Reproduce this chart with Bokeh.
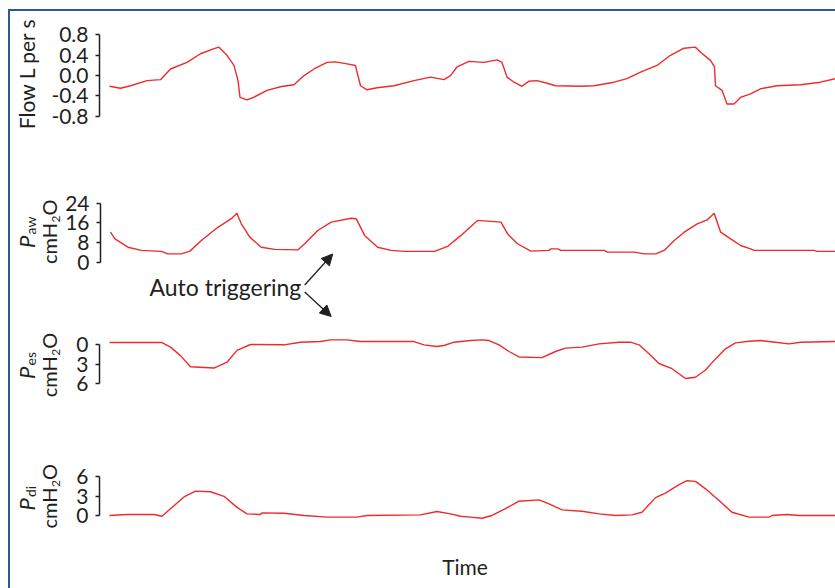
import math

from bokeh.embed import file_html
from bokeh.layouts import column, row
from bokeh.models import (Arrow, FixedTicker, Label, NormalHead,
                          PrintfTickFormatter, Range1d)
from bokeh.plotting import figure
from bokeh.resources import INLINE

# ---------------------------------------------------------------- data
# time axis in seconds, one trace per panel
time_flow = [0.0, 0.22, 0.42, 0.75, 1.02, 1.22, 1.55, 1.82, 2.09, 2.19, 2.35, 2.49,
             2.57, 2.61, 2.75, 2.88, 3.15, 3.42, 3.69, 3.89, 4.09, 4.35, 4.52, 4.75,
             4.92, 4.95, 5.02, 5.15, 5.35, 5.69, 6.09, 6.42, 6.69, 6.82, 6.95, 7.19,
             7.49, 7.75, 7.85, 7.95, 8.09, 8.25, 8.39, 8.55, 8.75, 8.92, 9.42, 9.69,
             10.09, 10.35, 10.62, 10.95, 11.22, 11.49, 11.72, 11.82, 12.02, 12.10,
             12.12, 12.25, 12.35, 12.49, 12.62, 12.82, 13.02, 13.35, 13.82, 14.22, 14.52]
flow = [-0.21, -0.25, -0.20, -0.10, -0.08, 0.13, 0.26, 0.43, 0.53, 0.56, 0.40, 0.20,
        -0.10, -0.43, -0.48, -0.43, -0.29, -0.22, -0.18, 0.0, 0.13, 0.26, 0.27, 0.23,
        0.20, 0.07, -0.20, -0.28, -0.24, -0.20, -0.10, -0.03, -0.08, 0.0, 0.17, 0.28,
        0.26, 0.31, 0.26, -0.03, -0.13, -0.21, -0.11, -0.10, -0.15, -0.20, -0.21, -0.20,
        -0.13, -0.06, 0.07, 0.20, 0.40, 0.54, 0.56, 0.46, 0.30, 0.17,
        -0.20, -0.29, -0.56, -0.56, -0.43, -0.36, -0.26, -0.20, -0.18, -0.13, -0.06]

time_paw = [0.0, 0.09, 0.35, 0.62, 1.02, 1.15, 1.42, 1.59, 1.82, 2.15, 2.42, 2.53,
            2.62, 2.79, 3.02, 3.29, 3.75, 3.89, 4.15, 4.42, 4.82, 4.92, 5.09, 5.35,
            5.62, 5.89, 6.49, 6.75, 7.02, 7.35, 7.62, 7.82, 7.95, 8.15, 8.42, 8.78,
            8.82, 8.96, 9.02, 9.89, 9.95, 10.49, 10.69, 10.92, 11.09, 11.29, 11.49,
            11.75, 11.95, 12.09, 12.22, 12.42, 12.62, 12.82, 12.89, 14.09, 14.15, 14.52]
paw = [12.2, 9.5, 6.1, 4.8, 4.4, 3.4, 3.4, 4.5, 8.8, 14.2, 17.7, 19.9,
       15.6, 10.2, 6.1, 5.2, 5.0, 7.5, 12.9, 16.3, 17.9, 17.7, 10.9, 6.1,
       4.8, 4.4, 4.4, 6.4, 10.9, 17.0, 16.6, 16.3, 11.6, 7.5, 4.5, 4.8,
       5.4, 5.4, 4.8, 4.8, 4.1, 4.1, 3.4, 3.4, 4.8, 8.8, 12.2,
       15.6, 17.2, 19.9, 12.2, 9.5, 6.8, 5.4, 4.8, 4.8, 4.4, 4.4]

time_pes = [0.0, 1.05, 1.22, 1.42, 1.62, 2.09, 2.35, 2.55, 2.82, 3.49, 3.82, 4.22,
            4.42, 4.75, 5.02, 6.09, 6.29, 6.55, 6.69, 6.89, 7.22, 7.45, 7.59, 7.79,
            7.99, 8.19, 8.65, 8.92, 9.12, 9.45, 9.79, 10.19, 10.42, 10.59, 10.79,
            10.99, 11.25, 11.52, 11.72, 11.92, 12.12, 12.32, 12.52, 12.79, 13.02,
            13.32, 13.59, 13.82, 14.52]
pes = [-0.3, -0.3, 0.4, 1.7, 3.4, 3.6, 2.7, 0.9, 0.0, 0.05, -0.35, -0.45,
       -0.7, -0.7, -0.45, -0.45, 0.05, 0.3, 0.15, -0.35, -0.6, -0.7, -0.6, 0.05,
       1.07, 1.9, 2.0, 1.07, 0.56, 0.4, -0.1, -0.35, -0.35, 0.05, 1.4,
       2.9, 3.7, 5.2, 5.0, 3.9, 2.2, 0.66, -0.25, -0.5, -0.6,
       -0.35, -0.1, -0.35, -0.45]

time_pdi = [0.0, 0.35, 0.89, 1.05, 1.22, 1.49, 1.72, 2.02, 2.29, 2.55, 2.75, 3.02,
            3.05, 3.49, 3.89, 4.35, 4.95, 5.15, 6.22, 6.55, 6.82, 7.02, 7.22, 7.45,
            7.65, 7.92, 8.19, 8.59, 8.79, 9.05, 9.45, 9.79, 10.12, 10.45, 10.65,
            10.92, 11.12, 11.39, 11.55, 11.72, 11.92, 12.19, 12.45, 12.79, 13.19,
            13.25, 13.55, 13.79, 14.52]
pdi = [0.05, 0.2, 0.2, -0.06, 1.1, 2.9, 3.8, 3.7, 3.0, 1.3, 0.3, 0.2,
       0.46, 0.4, 0.05, -0.2, -0.2, 0.05, 0.15, 0.66, 0.3, -0.06, -0.2, -0.37,
       0.05, 1.1, 2.25, 2.46, 1.85, 0.92, 0.7, 0.3, 0.05, 0.15, 0.55,
       2.8, 3.5, 4.8, 5.4, 5.3, 4.15, 2.35, 0.55, -0.2, -0.2,
       0.05, 0.2, 0.05, 0.05]

flow_ticks = [-0.8, -0.4, 0.0, 0.4, 0.8]
paw_ticks = [0, 8, 16, 24]
pes_ticks = [0, 3, 6]
pdi_ticks = [0, 3, 6]

# ---------------------------------------------------------------- style
FONT = "Lato"
INK = "#231f20"
TRACE = "#ee2a2a"
FRAME_BLUE = "#285a96"

PAGE_LEFT = 10          # page x where the figures begin
FRAME_LEFT = 99         # page x of the y axes
PAGE_RIGHT = 835
PX_PER_S = 50.0
X0 = -0.2
X1 = 14.52

panel_meta = {}


def make_panel(top, height, y_bottom, y_top, ticks, label_width, fmt=None):
    left = PAGE_LEFT + label_width
    p = figure(width=PAGE_RIGHT - left, height=height, output_backend="svg",
               toolbar_location=None,
               x_range=Range1d(X0, X1), y_range=Range1d(y_bottom, y_top),
               x_axis_location=None,
               min_border_left=FRAME_LEFT - left, min_border_right=0,
               min_border_top=0, min_border_bottom=0)
    p.grid.visible = False
    p.outline_line_color = None
    ax = p.yaxis[0]
    ax.ticker = FixedTicker(ticks=ticks)
    ax.bounds = (min(ticks), max(ticks))
    if fmt:
        ax.formatter = PrintfTickFormatter(format=fmt)
    ax.axis_line_color = INK
    ax.axis_line_width = 1.5
    ax.major_tick_line_color = INK
    ax.major_tick_line_width = 1.5
    ax.major_tick_in = 0
    ax.major_tick_out = 4
    ax.minor_tick_line_color = None
    ax.major_label_standoff = 7
    ax.major_label_text_font = FONT
    ax.major_label_text_font_size = "21px"
    ax.major_label_text_color = INK
    panel_meta[p.id] = ("data", top, height, y_bottom, y_top)
    return p


def make_label_strip(top, height, width):
    # blank strip left of an axis that holds the rotated axis titles
    s = figure(width=width, height=height, output_backend="svg", toolbar_location=None,
               x_range=Range1d(0, width), y_range=Range1d(height, 0),
               x_axis_location=None, y_axis_location=None, min_border=0)
    s.grid.visible = False
    s.outline_line_color = None
    panel_meta[s.id] = ("strip", top, height, PAGE_LEFT)
    return s


def to_data(p, px, py):
    meta = panel_meta[p.id]
    if meta[0] == "strip":
        return px - meta[3], py - meta[1]
    _, top, height, y_bottom, y_top = meta
    x = X0 + (px - FRAME_LEFT) / PX_PER_S
    y = y_top + (py - top) / height * (y_bottom - y_top)
    return x, y


def add_text(p, px, py, text, size, angle=0.0, align="left", italic=False):
    x, y = to_data(p, px, py)
    p.add_layout(Label(x=x, y=y, text=text, angle=angle, text_align=align,
                       text_baseline="middle", text_font=FONT,
                       text_font_size=f"{size}px", text_color=INK,
                       text_font_style="italic" if italic else "normal"))


def pressure_label(s, p_bottom, sub, c_bottom):
    up = math.pi / 2
    add_text(s, 25.5, p_bottom, "P", 22, up, italic=True)
    add_text(s, 29.5, p_bottom - 13.5, sub, 14, up)
    add_text(s, 48.0, c_bottom, "cmH", 20, up)
    add_text(s, 55.0, c_bottom - 41.5, "2", 12, up)
    add_text(s, 48.0, c_bottom - 48.5, "O", 20, up)


# ---------------------------------------------------------------- panels
s_flow = make_label_strip(11, 139, 38)
p_flow = make_panel(11, 139, -1.476, 1.263, flow_ticks, 38, "%.1f")
p_flow.line(time_flow, flow, line_color=TRACE, line_width=1.4)
add_text(s_flow, 25.7, 73, "Flow L per s", 21, math.pi / 2, align="center")

s_paw = make_label_strip(150, 180, 52)
p_paw = make_panel(150, 180, -27.79, 45.44, paw_ticks, 52)
p_paw.line(time_paw, paw, line_color=TRACE, line_width=1.4)
pressure_label(s_paw, 247.5, "aw", 263.5)
add_text(p_paw, 148, 286, "Auto triggering", 23)
for (sx, sy), (ex, ey) in [((303.5, 284.5), (331.5, 253.5)),
                           ((303.5, 291.5), (330.0, 316.0))]:
    xs, ys = to_data(p_paw, sx, sy)
    xe, ye = to_data(p_paw, ex, ey)
    p_paw.add_layout(Arrow(x_start=xs, y_start=ys, x_end=xe, y_end=ye,
                           line_color=INK, line_width=1.3,
                           end=NormalHead(size=11, fill_color=INK, line_color=INK)))

s_pes = make_label_strip(330, 110, 52)
p_pes = make_panel(330, 110, 14.66, -2.137, pes_ticks, 52)
p_pes.line(time_pes, pes, line_color=TRACE, line_width=1.4)
pressure_label(s_pes, 378.5, "es", 396.7)

s_pdi = make_label_strip(440, 148, 52)
p_pdi = make_panel(440, 148, -11.18, 11.585, pdi_ticks, 52)
p_pdi.line(time_pdi, pdi, line_color=TRACE, line_width=1.4)
pressure_label(s_pdi, 510, "di", 528)
add_text(p_pdi, 464.5, 566, "Time", 21, align="center")

layout = column(row(s_flow, p_flow, spacing=0), row(s_paw, p_paw, spacing=0),
                row(s_pes, p_pes, spacing=0), row(s_pdi, p_pdi, spacing=0),
                spacing=0,
                styles={"margin-left": "8px", "margin-top": "9px",
                        "border-left": f"2px solid {FRAME_BLUE}",
                        "border-top": f"2px solid {FRAME_BLUE}",
                        "background-color": "white"})

open("out.html", "w").write(file_html(layout, INLINE))
